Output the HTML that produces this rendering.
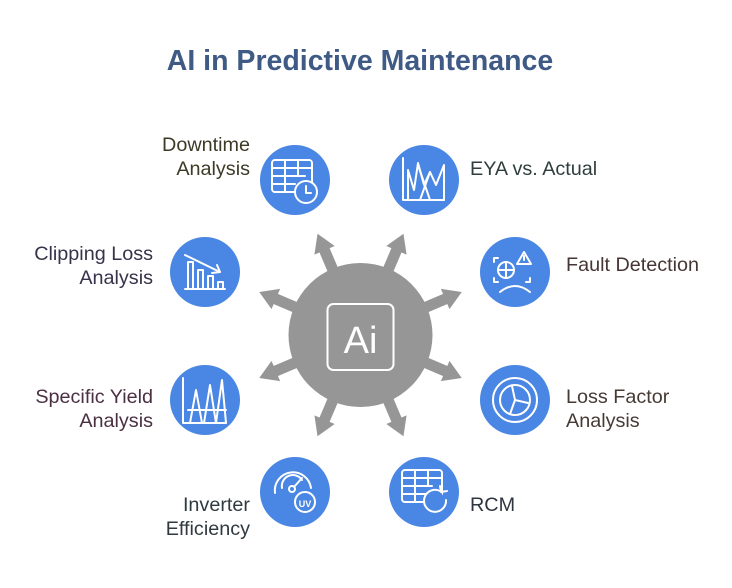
<!DOCTYPE html>
<html><head><meta charset="utf-8"><style>
html,body{margin:0;padding:0;background:#fff;width:732px;height:588px;overflow:hidden}
svg{display:block}
text{font-family:"Liberation Sans",sans-serif}
</style></head><body>
<svg width="732" height="588" viewBox="0 0 732 588" xmlns="http://www.w3.org/2000/svg">
<text x="360" y="70" text-anchor="middle" font-size="28.5" font-weight="bold" fill="#3e5a85">AI in Predictive Maintenance</text>
<g transform="translate(360.5,335)" fill="#969696">
<g transform="rotate(-113)"><rect x="0" y="-5.5" width="96" height="11"/><polygon points="92,-11 110,0 92,11"/></g>
<g transform="rotate(-67)"><rect x="0" y="-5.5" width="96" height="11"/><polygon points="92,-11 110,0 92,11"/></g>
<g transform="rotate(-157)"><rect x="0" y="-5.5" width="96" height="11"/><polygon points="92,-11 110,0 92,11"/></g>
<g transform="rotate(-23)"><rect x="0" y="-5.5" width="96" height="11"/><polygon points="92,-11 110,0 92,11"/></g>
<g transform="rotate(157)"><rect x="0" y="-5.5" width="96" height="11"/><polygon points="92,-11 110,0 92,11"/></g>
<g transform="rotate(23)"><rect x="0" y="-5.5" width="96" height="11"/><polygon points="92,-11 110,0 92,11"/></g>
<g transform="rotate(113)"><rect x="0" y="-5.5" width="96" height="11"/><polygon points="92,-11 110,0 92,11"/></g>
<g transform="rotate(67)"><rect x="0" y="-5.5" width="96" height="11"/><polygon points="92,-11 110,0 92,11"/></g>
<circle r="72"/>
<rect x="-33" y="-31" width="66" height="66" rx="6" fill="none" stroke="#fff" stroke-width="2"/>
<text x="0" y="18" text-anchor="middle" font-size="38" fill="#fff">Ai</text>
</g>
<g fill="#4a86e3">
<circle cx="295" cy="180" r="35"/><circle cx="424" cy="180" r="35"/>
<circle cx="205" cy="272" r="35"/><circle cx="515" cy="272" r="35"/>
<circle cx="205" cy="400" r="35"/><circle cx="515" cy="400" r="35"/>
<circle cx="295" cy="492" r="35"/><circle cx="424" cy="492" r="35"/>
</g>
<g fill="none" stroke="#fff" stroke-width="2" stroke-linecap="round" stroke-linejoin="round">
<rect x="272" y="160" width="40" height="32" rx="3"/><line x1="272" y1="168" x2="312" y2="168"/><line x1="272" y1="176" x2="305" y2="176"/><line x1="272" y1="184" x2="295" y2="184"/><line x1="285" y1="160" x2="285" y2="192"/><line x1="298" y1="160" x2="298" y2="176"/>
<circle cx="306" cy="192" r="11" fill="#4a86e3"/><polyline points="306,186 306,193 311,193"/>
<polyline points="403,158 403,200 444,200"/><polyline points="408,200 408,170 414,190 418,163 424,185 430,172 436,185 444,165 444,200"/><line x1="418" y1="165" x2="430" y2="200"/><line x1="430" y1="172" x2="420" y2="200"/>
<line x1="185" y1="289" x2="225" y2="289"/><rect x="188" y="262" width="5" height="27"/><rect x="198" y="270" width="5" height="19"/><rect x="208" y="276" width="5" height="13"/><rect x="218" y="282" width="5" height="7"/><line x1="185" y1="255" x2="220" y2="272"/><polyline points="212,273 220,272 217,265"/>
<polyline points="494,262 494,258 498,258"/><polyline points="494,278 494,282 498,282"/><polyline points="530,278 530,282 526,282"/><circle cx="506" cy="270" r="8"/><line x1="506" y1="262" x2="506" y2="278"/><line x1="498" y1="270" x2="514" y2="270"/><path d="M500 292 Q515 280 530 292"/><polygon points="524,252 517,264 531,264"/><line x1="524" y1="256" x2="524" y2="260"/>
<circle cx="515" cy="400" r="22"/><circle cx="515" cy="400" r="15"/><polyline points="512,386 515,400 528,403"/><line x1="515" y1="400" x2="510" y2="414"/>
<polyline points="183,378 183,423 226,423"/><polygon points="190,423 196,390 202,423"/><polygon points="204,423 210,385 216,423"/><polygon points="216,423 222,380 226,423"/><line x1="188" y1="410" x2="226" y2="410"/>
<path d="M275 493 A18 18 0 1 1 311 488"/><path d="M282 488 A11 11 0 0 1 302 480"/><circle cx="292" cy="489" r="3"/><line x1="294" y1="487" x2="302" y2="478"/><circle cx="305" cy="502" r="10" fill="#4a86e3"/>
<rect x="402" y="470" width="40" height="32" rx="3"/><line x1="402" y1="478" x2="442" y2="478"/><line x1="402" y1="486" x2="432" y2="486"/><line x1="402" y1="494" x2="425" y2="494"/><line x1="415" y1="470" x2="415" y2="502"/><line x1="428" y1="470" x2="428" y2="486"/>
<path d="M446 500 A11 11 0 1 1 440 491" fill="#4a86e3"/><polyline points="440,486 441,492 447,491"/>
</g>
<text x="305" y="507" text-anchor="middle" font-size="9" font-weight="bold" fill="#fff">UV</text>
<g font-size="19.8">
<text x="250" y="151" text-anchor="end" fill="#3d3a26">Downtime</text>
<text x="250" y="175" text-anchor="end" fill="#3d3a26">Analysis</text>
<text x="470" y="175" fill="#2f3d3d">EYA vs. Actual</text>
<text x="153" y="260" text-anchor="end" fill="#38324a">Clipping Loss</text>
<text x="153" y="284" text-anchor="end" fill="#38324a">Analysis</text>
<text x="566" y="271" fill="#463535">Fault Detection</text>
<text x="153" y="403" text-anchor="end" fill="#4a3040">Specific Yield</text>
<text x="153" y="427" text-anchor="end" fill="#4a3040">Analysis</text>
<text x="566" y="403" fill="#463a35">Loss Factor</text>
<text x="566" y="427" fill="#463a35">Analysis</text>
<text x="250" y="511" text-anchor="end" fill="#2f3a40">Inverter</text>
<text x="250" y="535" text-anchor="end" fill="#2f3a40">Efficiency</text>
<text x="470" y="511" fill="#2f3540">RCM</text>
</g>
</svg>
</body></html>
